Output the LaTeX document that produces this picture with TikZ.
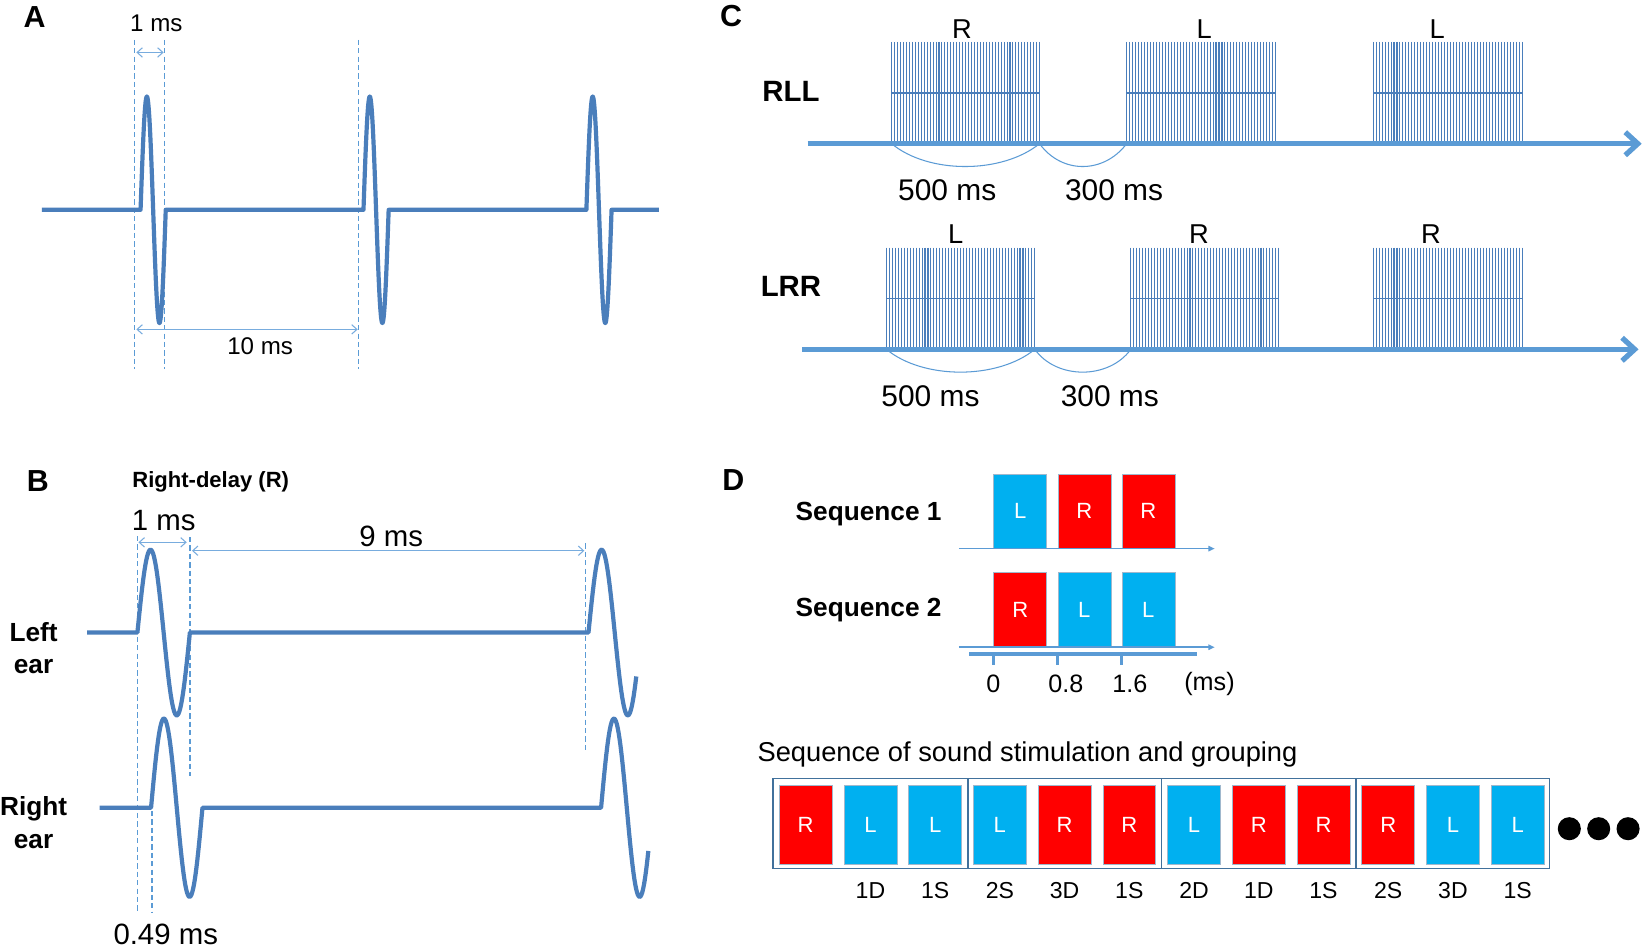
\documentclass[tikz,border=0pt]{standalone}
\usepackage{fontspec}
\setmainfont{Liberation Sans}
\usetikzlibrary{arrows.meta}
\definecolor{wave}{RGB}{74,126,187}
\definecolor{axisblue}{RGB}{91,155,213}
\definecolor{dimblue}{RGB}{120,172,222}
\definecolor{redbox}{RGB}{255,0,0}
\definecolor{cyanbox}{RGB}{0,176,240}
\definecolor{boxborder}{RGB}{65,113,156}
\tikzset{
 wavestyle/.style={draw=wave, line width=4pt, line join=round},
 dashv/.style={draw=axisblue, line width=1.3pt, dash pattern=on 5pt off 3pt},
 dimarrow/.style={draw=dimblue, line width=1pt, {Straight Barb[length=5pt,width=9pt]}-{Straight Barb[length=5pt,width=9pt]}},
 panellabel/.style={font=\fontsize{29}{30}\selectfont\bfseries, inner sep=0pt},
 txt/.style={font=\fontsize{#1}{#1}\selectfont, inner sep=0pt},
 btxt/.style={font=\fontsize{#1}{#1}\selectfont\bfseries, inner sep=0pt},
 pline/.style={draw=wave, line width=1pt},
 bigaxis/.style={draw=axisblue, line width=5pt, -{Straight Barb[length=12pt,width=22pt]}},
 arcline/.style={draw=axisblue, line width=1pt},
 thinaxis/.style={draw=axisblue, line width=1.5pt, -{Triangle[length=6pt,width=5pt]}},
 sbox/.style={draw=boxborder!50, line width=0.6pt, minimum width=50.5pt, minimum height=#1, inner sep=0pt, text=white, font=\fontsize{21}{21}\selectfont},
}
\newcommand\pblock[4]{%
  \foreach \ii in {0,...,50}{\draw[pline] ({#1+\ii*(#2-#1)/50},#3) -- ({#1+\ii*(#2-#1)/50},#4);}
  \draw[draw=wave, line width=1.6pt] (#1,{(#3+#4)/2}) -- (#2,{(#3+#4)/2});
}
\begin{document}
\begin{tikzpicture}[x=1pt,y=-1pt]
\useasboundingbox (0,0) rectangle (1565.3,903.7);
\fill[white] (0,0) rectangle (1565.3,903.7);

% ---------------- Panel A
\node[panellabel] (labA) at (33,16) {A};
\draw[dashv] (128,38) -- (128,352);
\draw[dashv] (157,38) -- (157,352);
\draw[dashv] (342,38) -- (342,352);
\coordinate (a1l) at (130,50); \coordinate (a1r) at (156,50);
\draw[dimarrow] (a1l) -- (a1r);
\node[txt=23] (a1ms) at (149,22) {1 ms};
\coordinate (a10l) at (130,314); \coordinate (a10r) at (341,314);
\draw[dimarrow] (a10l) -- (a10r);
\node[txt=23] (a10ms) at (248,330) {10 ms};
\draw[wavestyle] (40,200) -- (134,200)
  -- plot[domain=0:360,samples=61] ({134+\x/15},{200-108*sin(\x)})
  -- (346.5,200)
  -- plot[domain=0:360,samples=61] ({346.5+\x/15},{200-108*sin(\x)})
  -- (559,200)
  -- plot[domain=0:360,samples=61] ({559+\x/15},{200-108*sin(\x)})
  -- (628,200);

% ---------------- Panel B
\node[panellabel] (labB) at (36,459) {B};
\node[btxt=21, anchor=west] (rdelay) at (126,459) {Right-delay (R)};
\draw[dashv] (131,511) -- (131,870);
\draw[dashv] (145,773) -- (145,870);
\draw[dashv] (181,512) -- (181,740);
\draw[dashv] (558,518) -- (558,717);
\coordinate (b1l) at (132,517); \coordinate (b1r) at (178,517);
\draw[dimarrow] (b1l) -- (b1r);
\coordinate (b9l) at (183,525); \coordinate (b9r) at (557,525);
\draw[dimarrow] (b9l) -- (b9r);
\node[txt=28] (b1ms) at (156,496) {1 ms};
\node[txt=28] (b9ms) at (373,511) {9 ms};
\node[txt=28] (b049) at (158,891) {0.49 ms};
\node[btxt=25, align=center, font=\fontsize{25}{31}\selectfont\bfseries] (leftear) at (32,618) {Left\\ear};
\node[btxt=25, align=center, font=\fontsize{25}{31}\selectfont\bfseries] (rightear) at (32,784) {Right\\ear};
\draw[wavestyle] (83,603) -- (131,603)
  -- plot[domain=0:360,samples=61] ({131+\x/7.2},{603-79*sin(\x)})
  -- (561,603)
  -- plot[domain=0:328,samples=55] ({561+\x/7.2},{603-79*sin(\x)});
\draw[wavestyle] (95,770) -- (144,770)
  -- plot[domain=0:360,samples=61] ({144+\x/7.347},{770-85*sin(\x)})
  -- (573,770)
  -- plot[domain=0:331,samples=55] ({573+\x/7.347},{770-85*sin(\x)});

% ---------------- Panel C
\node[panellabel] (labC) at (697,15) {C};
\node[btxt=28] (rll) at (754,87) {RLL};
\pblock{850}{991}{40}{137}
\pblock{1074}{1216}{40}{137}
\pblock{1309}{1451}{40}{137}
\node[txt=26] (c1r) at (917,28) {R};
\node[txt=26] (c1l) at (1148,28) {L};
\node[txt=26] (c1l2) at (1370,28) {L};
\coordinate (ax1s) at (770,137); \coordinate (ax1e) at (1565,137);
\draw[bigaxis] (ax1s) -- (ax1e);
\coordinate (p1a) at (850,137); \coordinate (p1b) at (991,137); \coordinate (p1c) at (1074,137);
\draw[arcline] (p1a) .. controls (885,166) and (955,166) .. (p1b);
\draw[arcline] (p1b) .. controls (1012,166) and (1052,166) .. (p1c);
\node[txt=28.5] (c500a) at (903,181) {500 ms};
\node[txt=28.5] (c300a) at (1062,181) {300 ms};

\node[btxt=28] (lrr) at (754,273) {LRR};
\pblock{845}{986.5}{236}{333}
\pblock{1078}{1219}{236}{333}
\pblock{1309}{1451}{236}{333}
\node[txt=26] (c2l) at (911,223) {L};
\node[txt=26] (c2r) at (1143,223) {R};
\node[txt=26] (c2r2) at (1364,223) {R};
\coordinate (ax2s) at (765,333); \coordinate (ax2e) at (1562,333);
\draw[bigaxis] (ax2s) -- (ax2e);
\coordinate (p2a) at (845,333); \coordinate (p2b) at (986.5,333); \coordinate (p2c) at (1078,333);
\draw[arcline] (p2a) .. controls (880,362) and (951,362) .. (p2b);
\draw[arcline] (p2b) .. controls (1007,362) and (1057,362) .. (p2c);
\node[txt=28.5] (c500b) at (887,378) {500 ms};
\node[txt=28.5] (c300b) at (1058,378) {300 ms};

% ---------------- Panel D
\node[panellabel] (labD) at (699,458) {D};
\node[btxt=25] (seq1) at (828,490) {Sequence 1};
\node[btxt=25] (seq2) at (828,582) {Sequence 2};
\node[sbox=71pt, fill=cyanbox] (s1a) at (972.6,487.5) {L};
\node[sbox=71pt, fill=redbox] (s1b) at (1033.7,487.5) {R};
\node[sbox=71pt, fill=redbox] (s1c) at (1094.7,487.5) {R};
\node[sbox=70.7pt, fill=redbox] (s2a) at (972.6,581.3) {R};
\node[sbox=70.7pt, fill=cyanbox] (s2b) at (1033.7,581.3) {L};
\node[sbox=70.7pt, fill=cyanbox] (s2c) at (1094.7,581.3) {L};
\coordinate (d1s) at (914,523); \coordinate (d1e) at (1158,523);
\draw[thinaxis] (d1s) -- (d1e);
\coordinate (d2s) at (914,617); \coordinate (d2e) at (1158,617);
\draw[thinaxis] (d2s) -- (d2e);
\draw[draw=axisblue, line width=4pt] (924,623.5) -- (1141.5,623.5);
\foreach \tx in {947.4,1008,1069.4}{\draw[draw=axisblue, line width=3pt] (\tx,623.5) -- (\tx,634);}
\node[txt=24] (t0) at (947,652) {0};
\node[txt=24] (t08) at (1016,652) {0.8};
\node[txt=24] (t16) at (1077,652) {1.6};
\node[txt=24] (tms) at (1153,652) {(ms)};

\node[txt=26, anchor=west] (seqtitle) at (722,719) {Sequence of sound stimulation and grouping};
\draw[draw=boxborder, line width=1.5pt] (737,742) rectangle (1477,828);
\foreach \sx in {922.7,1107.2,1292.4}{\draw[draw=boxborder, line width=1.5pt] (\sx,742) -- (\sx,828);}
\foreach \cc/\tt [count=\i from 0] in {redbox/R,cyanbox/L,cyanbox/L,cyanbox/L,redbox/R,redbox/R,cyanbox/L,redbox/R,redbox/R,redbox/R,cyanbox/L,cyanbox/L}{
  \node[sbox=75.8pt, fill=\cc] (g\i) at ({768.05+61.7*\i},786.3) {\tt};
}
\foreach \lb [count=\i from 1] in {1D,1S,2S,3D,1S,2D,1D,1S,2S,3D,1S}{
  \node[txt=22] (gl\i) at ({768.05+61.7*\i},849) {\lb};
}
\fill[black] (1496,790) circle (11);
\fill[black] (1524,790) circle (11);
\fill[black] (1552,790) circle (11);
\end{tikzpicture}
\end{document}
